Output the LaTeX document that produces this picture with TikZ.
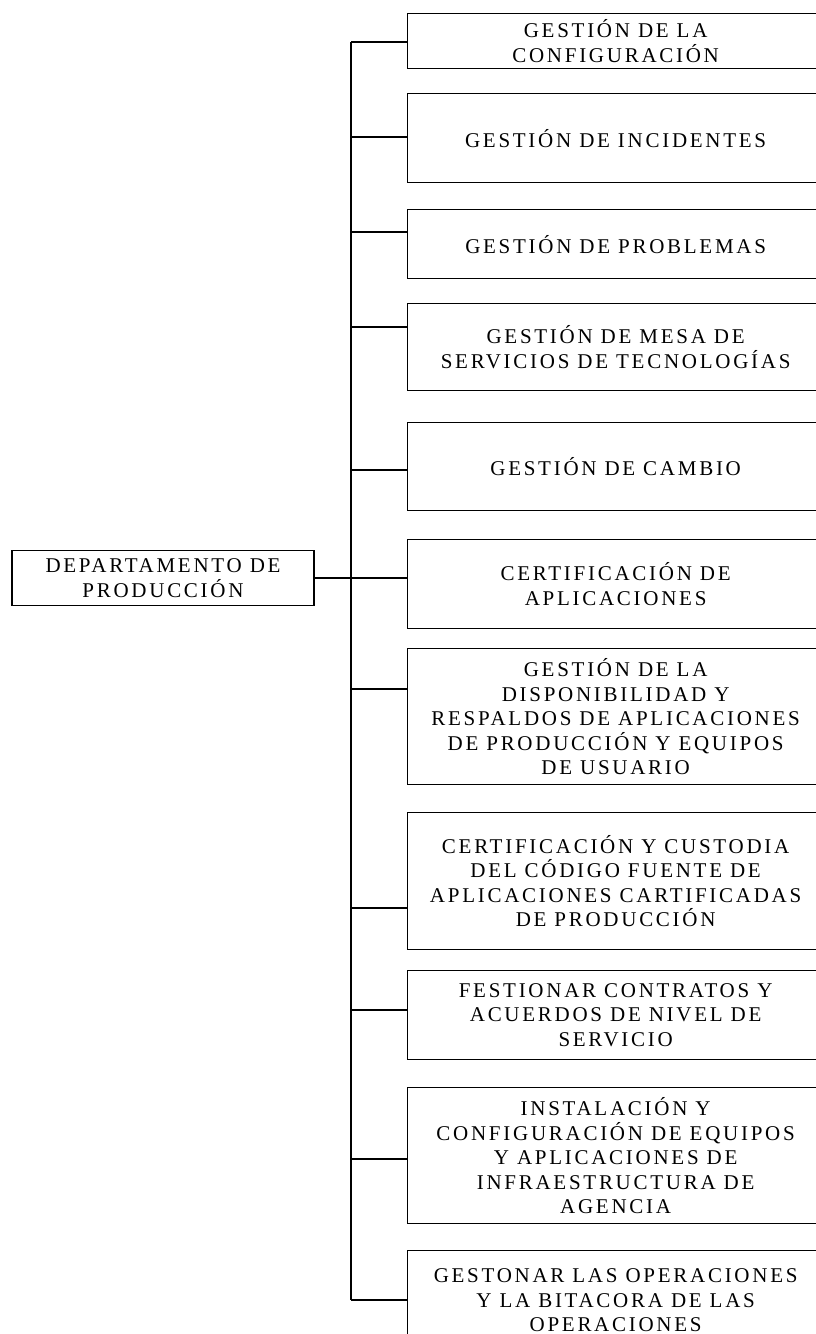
\documentclass[tikz,border=0pt]{standalone}
\usepackage{fontspec}
\setmainfont{Liberation Serif}[LetterSpace=13]
\begin{document}
\begin{tikzpicture}[x=1pt,y=-1pt,
  unitbox/.style={draw, line width=1.3pt, rectangle, align=center, inner sep=0pt,
    font=\fontsize{21}{24.5}\selectfont},
  subbox/.style={unitbox, anchor=north west, minimum width=416pt},
  link/.style={line width=1.3pt}]
\path[use as bounding box] (0,0) rectangle (816,1334);
\clip (0,0) rectangle (816,1334);

% head unit
\node[unitbox, minimum width=302pt, minimum height=55pt] (root) at (163,578)
  {DEPARTAMENTO DE\\PRODUCCIÓN};

% subordinate units
\node[subbox, minimum height=55pt]  (b1)  at (407,13)   {GESTIÓN DE LA\\CONFIGURACIÓN};
\node[subbox, minimum height=89pt]  (b2)  at (407,93)   {GESTIÓN DE INCIDENTES};
\node[subbox, minimum height=69pt]  (b3)  at (407,209)  {GESTIÓN DE PROBLEMAS};
\node[subbox, minimum height=87pt]  (b4)  at (407,303)  {GESTIÓN DE MESA DE\\SERVICIOS DE TECNOLOGÍAS};
\node[subbox, minimum height=88pt]  (b5)  at (407,422)  {GESTIÓN DE CAMBIO};
\node[subbox, minimum height=89pt]  (b6)  at (407,539)  {CERTIFICACIÓN DE\\APLICACIONES};
\node[subbox, minimum height=136pt] (b7)  at (407,648)
  {GESTIÓN DE LA\\DISPONIBILIDAD Y\\RESPALDOS DE APLICACIONES\\DE PRODUCCIÓN Y EQUIPOS\\DE USUARIO};
\node[subbox, minimum height=137pt] (b8)  at (407,812)
  {CERTIFICACIÓN Y CUSTODIA\\DEL CÓDIGO FUENTE DE\\APLICACIONES CARTIFICADAS\\DE PRODUCCIÓN};
\node[subbox, minimum height=89pt]  (b9)  at (407,970)
  {FESTIONAR CONTRATOS Y\\ACUERDOS DE NIVEL DE\\SERVICIO};
\node[subbox, minimum height=136pt] (b10) at (407,1087)
  {INSTALACIÓN Y\\CONFIGURACIÓN DE EQUIPOS\\Y APLICACIONES DE\\INFRAESTRUCTURA DE\\AGENCIA};
\node[subbox, minimum height=99pt]  (b11) at (407,1250)
  {GESTONAR LAS OPERACIONES\\Y LA BITACORA DE LAS\\OPERACIONES};

% junctions on the vertical spine
\coordinate (s1)  at (351,42);
\coordinate (s2)  at (351,137);
\coordinate (s3)  at (351,232);
\coordinate (s4)  at (351,327);
\coordinate (s5)  at (351,470);
\coordinate (s7)  at (351,689);
\coordinate (s8)  at (351,908);
\coordinate (s9)  at (351,1010);
\coordinate (s10) at (351,1159);
\coordinate (s11) at (351,1300);

% spine and branches
\draw[link] (s1) -- (s11);
\draw[link] (root.east) -- (root.east -| b6.west);
\foreach \i in {1,2,3,4,5,7,8,9,10,11}
  \draw[link] (s\i) -- (s\i -| b\i.west);
\end{tikzpicture}
\end{document}
